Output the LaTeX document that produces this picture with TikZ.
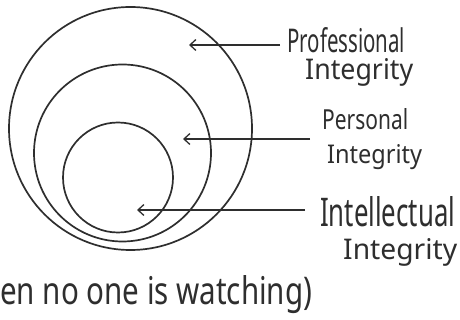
\documentclass[tikz,border=0pt]{standalone}
\usepackage{fontspec}
\setmainfont{Noto Sans}
\usepackage{graphicx}
\usetikzlibrary{arrows.meta}
\definecolor{ink}{HTML}{2E2E2E}
\newcommand{\hwtext}[3]{\resizebox{#1pt}{#2pt}{#3}}
\tikzset{
  ring/.style={draw=ink, line width=1.7pt},
  arr/.style={draw=ink, line width=1.3pt, -{Straight Barb[length=6pt,width=11pt,line width=1.3pt]}},
  lab/.style={anchor=base west, inner sep=0pt, text=ink, font=\fontsize{24}{28}\selectfont}
}
\begin{document}
\begin{tikzpicture}[x=1pt,y=-1pt]
\useasboundingbox (0,0) rectangle (460,320);
% circles
\node[ring, circle, minimum size=243pt, inner sep=0pt] (outer) at (130.5,128.5) {};
\node[ring, circle, minimum size=177pt, inner sep=0pt] (middle) at (122.5,153) {};
\node[ring, circle, minimum size=110pt, inner sep=0pt] (inner) at (118,177.5) {};
% labels
\node[lab] (prof1) at (287,53) {\hwtext{118}{25}{Professional}};
\node[lab] (prof2) at (305,80) {\hwtext{108}{21}{Integrity}};
\node[lab] (pers1) at (322,130) {\hwtext{86}{21}{Personal}};
\node[lab] (pers2) at (327,164) {\hwtext{95}{19}{Integrity}};
\node[lab] (intl1) at (320,227) {\hwtext{135}{30}{Intellectual}};
\node[lab] (intl2) at (343,260) {\hwtext{114}{21}{Integrity}};
\node[lab] (note) at (0,304) {\hwtext{312}{29}{en no one is watching)}};
% connector ends
\coordinate (e1) at (280,45);
\coordinate (t1) at (189,45);
\coordinate (e2) at (310,139);
\coordinate (t2) at (183,139);
\coordinate (e3) at (305,210);
\coordinate (t3) at (137,210);
\draw[arr] (e1) -- (t1);
\draw[arr] (e2) -- (t2);
\draw[arr] (e3) -- (t3);
\end{tikzpicture}
\end{document}
